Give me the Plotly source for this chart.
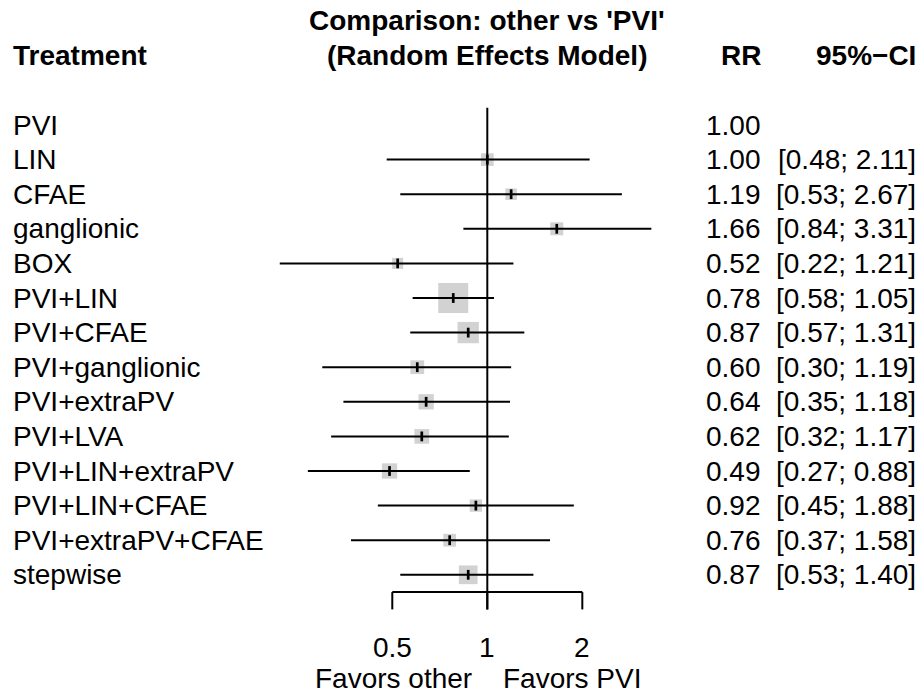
import plotly.graph_objects as go
import math

treatments = ["PVI", "LIN", "CFAE", "ganglionic", "BOX", "PVI+LIN", "PVI+CFAE",
              "PVI+ganglionic", "PVI+extraPV", "PVI+LVA", "PVI+LIN+extraPV",
              "PVI+LIN+CFAE", "PVI+extraPV+CFAE", "stepwise"]
rr = [1.00, 1.00, 1.19, 1.66, 0.52, 0.78, 0.87, 0.60, 0.64, 0.62, 0.49, 0.92, 0.76, 0.87]
ci_low = [None, 0.48, 0.53, 0.84, 0.22, 0.58, 0.57, 0.30, 0.35, 0.32, 0.27, 0.45, 0.37, 0.53]
ci_high = [None, 2.11, 2.67, 3.31, 1.21, 1.05, 1.31, 1.19, 1.18, 1.17, 0.88, 1.88, 1.58, 1.40]
# relative weight -> box size (px)
box_size = [0, 12.7, 11.5, 13, 11, 30, 21.3, 13.7, 15.3, 14.7, 15.3, 12.3, 12.7, 18.7]
tick_vals = [0.5, 1, 2]
tick_text = ["0.5", "1", "2"]
label_left = "Favors other"
label_right = "Favors PVI"

W, H = 923, 694
FONT = "Liberation Sans, Arial, sans-serif"
FS = 28

# pixel geometry
x_ref_px = 487.3
px_per_log10 = 315.6
row0_px = 125.0
row_h = 34.6

def ypx(p):
    return (p - row0_px) / row_h

xr = [-(x_ref_px) / px_per_log10, (W - x_ref_px) / px_per_log10]
yr = [ypx(H), ypx(0)]

n = len(treatments)
rows = list(range(n))

fig = go.Figure()

# boxes
bx = [rr[i] for i in rows if ci_low[i] is not None]
by = [i for i in rows if ci_low[i] is not None]
bs = [box_size[i] for i in rows if ci_low[i] is not None]
fig.add_trace(go.Scatter(x=bx, y=by, mode="markers",
                         marker=dict(symbol="square", size=bs, color="#BFBFBF",
                                     line=dict(width=0)),
                         hoverinfo="skip", showlegend=False))

# CI lines
lx, ly = [], []
for i in rows:
    if ci_low[i] is None:
        continue
    lx += [ci_low[i], ci_high[i], None]
    ly += [i, i, None]
fig.add_trace(go.Scatter(x=lx, y=ly, mode="lines",
                         line=dict(color="black", width=2),
                         hoverinfo="skip", showlegend=False))

# point ticks
fig.add_trace(go.Scatter(x=bx, y=by, mode="markers",
                         marker=dict(symbol="line-ns", size=7,
                                     line=dict(width=2.7, color="black")),
                         hoverinfo="skip", showlegend=False))

axis_y = n - 0.5
tick_end = axis_y + 0.5
# reference line
fig.add_shape(type="line", x0=1, x1=1, y0=-0.5, y1=tick_end,
              xref="x", yref="y", line=dict(color="black", width=2))
# axis line
fig.add_shape(type="line", x0=min(tick_vals), x1=max(tick_vals), y0=axis_y, y1=axis_y,
              xref="x", yref="y", line=dict(color="black", width=2))
for tv in tick_vals:
    fig.add_shape(type="line", x0=tv, x1=tv, y0=axis_y, y1=tick_end,
                  xref="x", yref="y", line=dict(color="black", width=2))

ann = []
def A(text, xpx, ypos, anchor, bold=False):
    ann.append(dict(text=("<b>%s</b>" % text) if bold else text,
                    x=xpx / W, y=ypos, xref="paper", yref="y",
                    xanchor=anchor, yanchor="middle", showarrow=False,
                    font=dict(family=FONT, size=FS, color="black")))

def xpx_of(v):
    return x_ref_px + px_per_log10 * math.log10(v)

for tv, tt in zip(tick_vals, tick_text):
    A(tt, xpx_of(tv), ypx(647), "center")
A(label_left, 474, ypx(678), "right")
A(label_right, 501, ypx(678), "left")

# headers
A("Treatment", 11, ypx(55), "left", True)
A("Comparison: other vs 'PVI'", x_ref_px, ypx(20), "center", True)
A("(Random Effects Model)", x_ref_px, ypx(55), "center", True)
A("RR", 763, ypx(55), "right", True)
A("95%\u2212CI", 918, ypx(55), "right", True)

for i in rows:
    A(treatments[i], 11, i, "left")
    A("%.2f" % rr[i], 763, i, "right")
    if ci_low[i] is not None:
        A("[%.2f; %.2f]" % (ci_low[i], ci_high[i]), 918, i, "right")

fig.update_layout(
    width=W, height=H, margin=dict(l=0, r=0, t=0, b=0),
    paper_bgcolor="white", plot_bgcolor="white",
    xaxis=dict(type="log", range=xr, visible=False, domain=[0, 1]),
    yaxis=dict(range=yr, visible=False, domain=[0, 1]),
    annotations=ann, showlegend=False,
)
fig.write_html("out.html", config={"displayModeBar": False, "staticPlot": True},
               post_script="document.body.style.margin='0';document.body.style.overflow='hidden';")
